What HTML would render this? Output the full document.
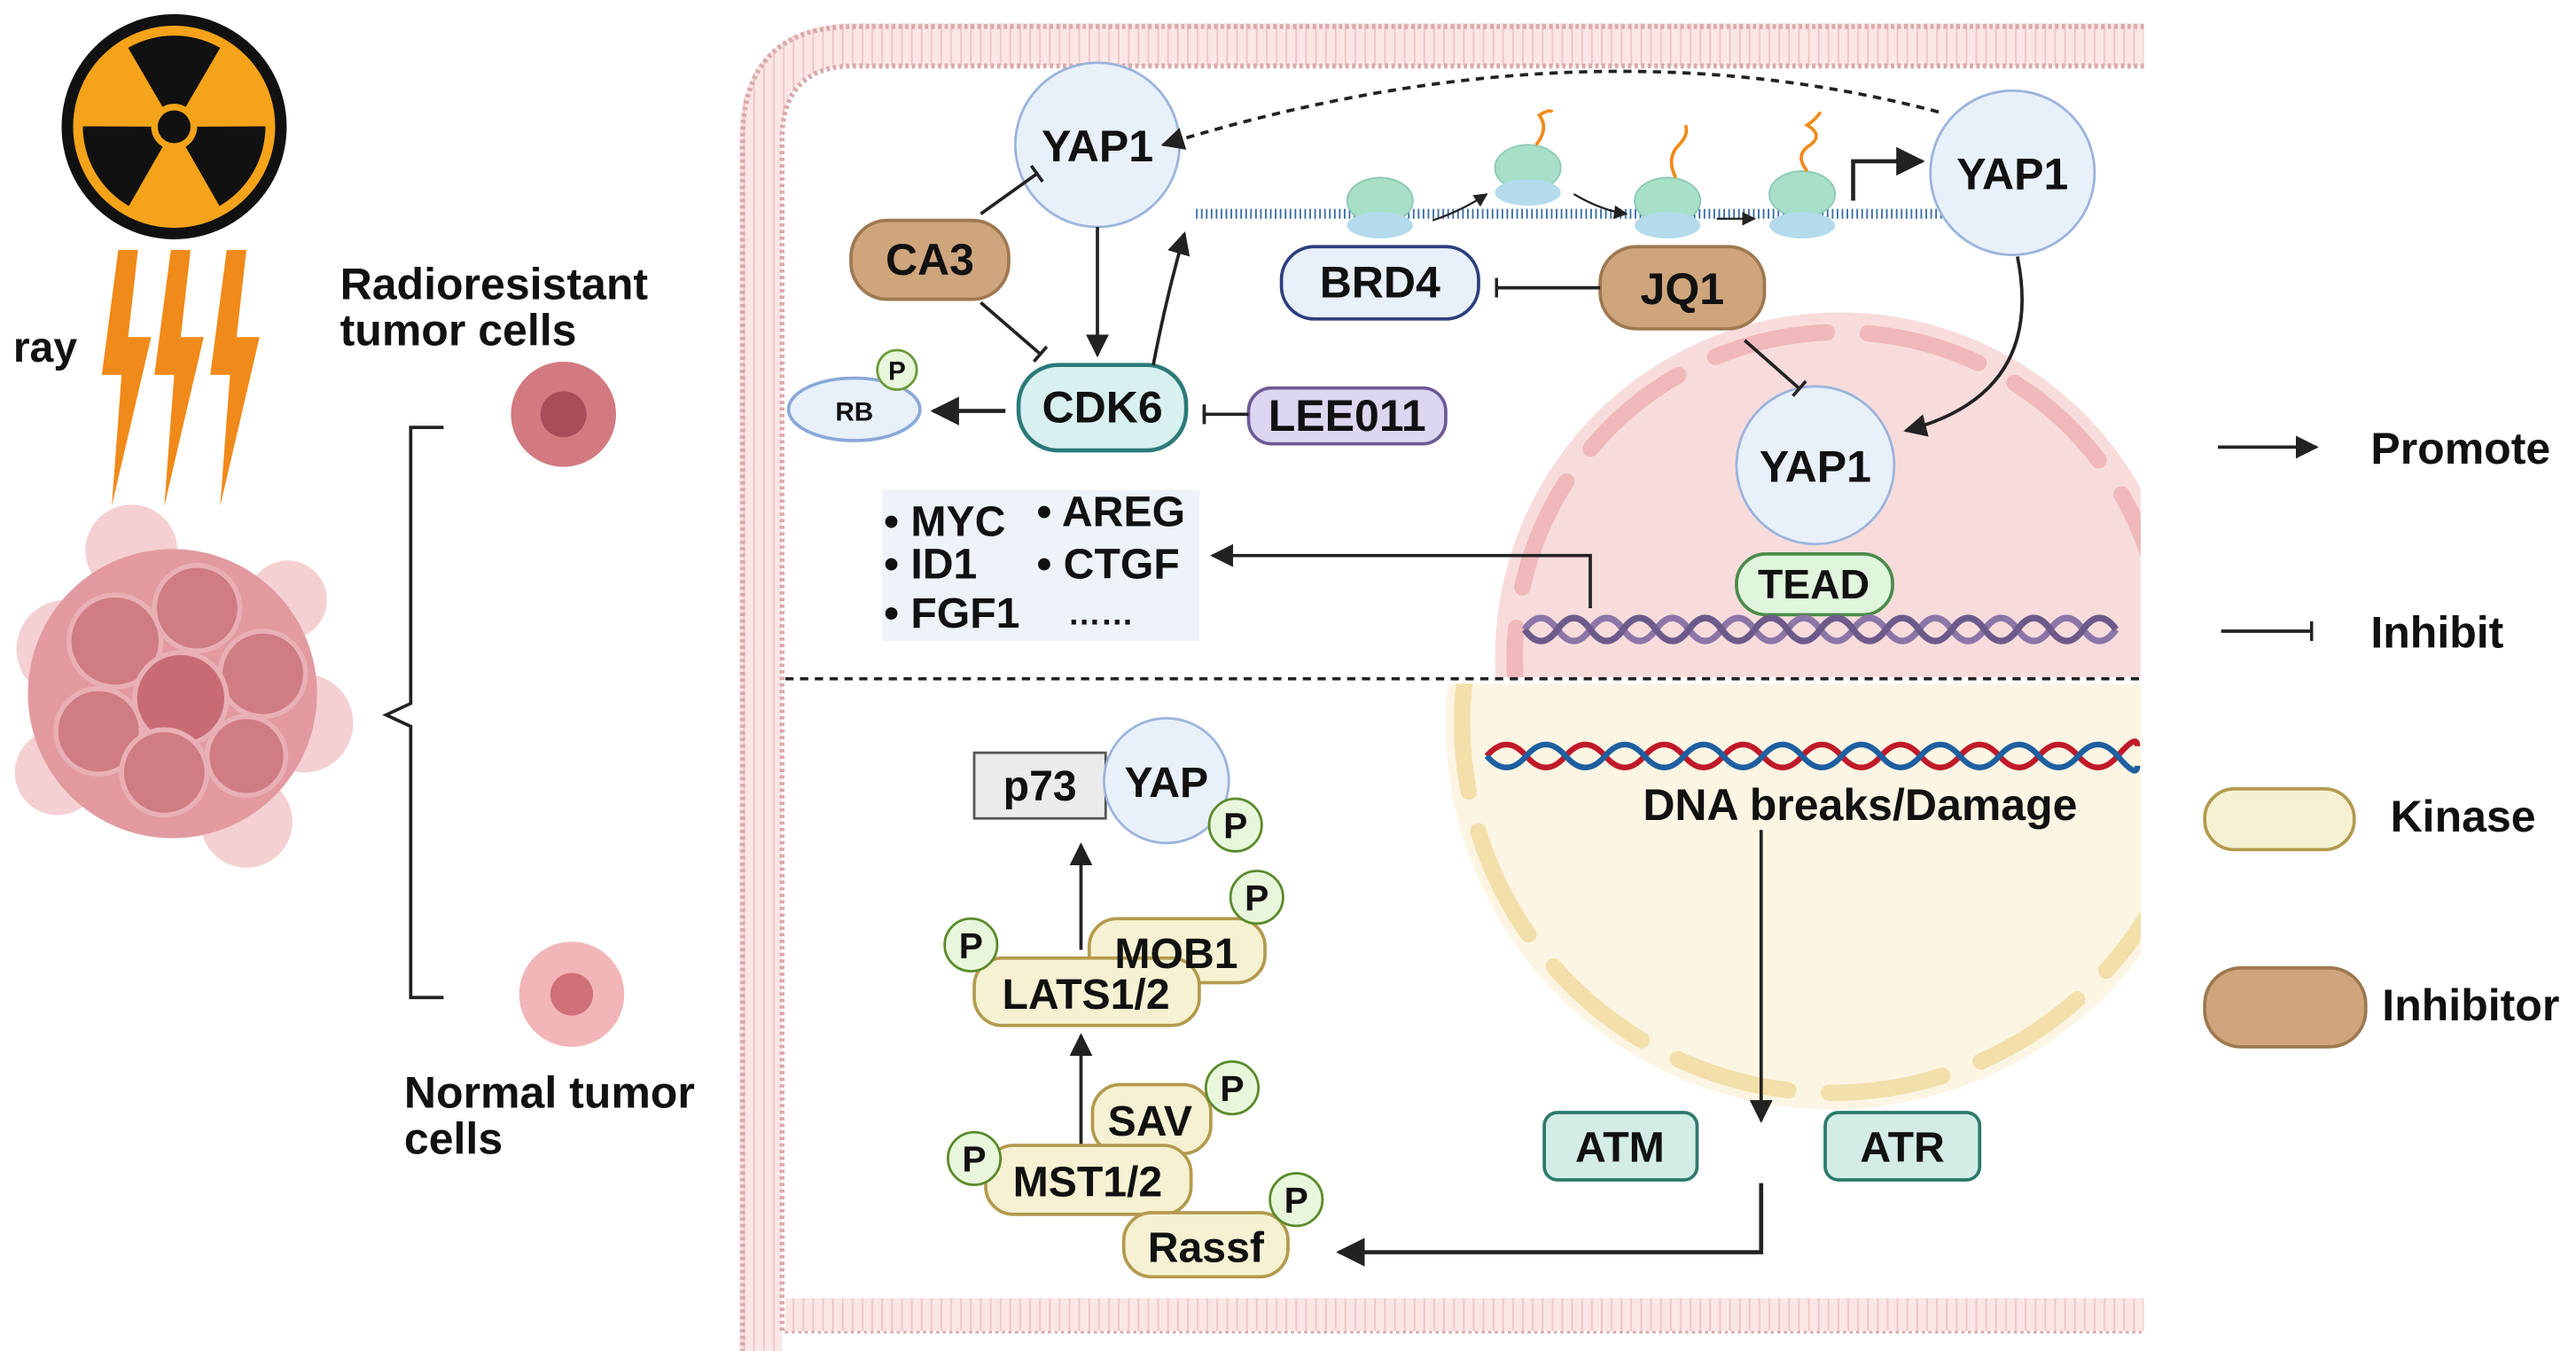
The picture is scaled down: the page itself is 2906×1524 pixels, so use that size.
<!DOCTYPE html>
<html><head><meta charset="utf-8"><style>
html,body{margin:0;padding:0;background:#fff}
svg{display:block}
text{font-family:"Liberation Sans",Arial,sans-serif;font-weight:bold;fill:#111}
</style></head><body>
<svg width="2906" height="1524" viewBox="0 0 1568 822" xmlns="http://www.w3.org/2000/svg">
<defs>
<marker id="ar" viewBox="0 0 10 10" refX="9" refY="5" markerWidth="7" markerHeight="7" orient="auto"><path d="M0,0 L10,5 L0,10 z" fill="#222"/></marker>
<marker id="tb" viewBox="0 0 4 12" refX="2" refY="6" markerWidth="4" markerHeight="12" markerUnits="userSpaceOnUse" orient="auto"><rect x="0" y="0" width="2" height="12" fill="#222"/></marker>
<pattern id="mem" width="6" height="6" patternUnits="userSpaceOnUse"><rect width="6" height="6" fill="#fbe6e6"/><line x1="3" y1="0" x2="3" y2="6" stroke="#f0c4c4" stroke-width="1"/></pattern>
</defs>

<!-- radiation -->
<circle cx="106" cy="77" r="65" fill="#f5a31a" stroke="#111" stroke-width="7"/>
<g fill="#111" transform="translate(106,77)">
<path d="M0,0 L-28,-48 A56,56 0 0 1 28,-48 Z"/>
<path d="M0,0 L-28,-48 A56,56 0 0 1 28,-48 Z" transform="rotate(120)"/>
<path d="M0,0 L-28,-48 A56,56 0 0 1 28,-48 Z" transform="rotate(240)"/>
<circle r="14" fill="#f5a31a"/><circle r="10"/>
</g>
<g fill="#f08a1a">
<path d="M72,152 L84,152 L78,205 L92,205 L68,308 L74,228 L62,228 Z"/>
<path d="M104,152 L116,152 L110,205 L124,205 L100,308 L106,228 L94,228 Z"/>
<path d="M138,152 L150,152 L144,205 L158,205 L134,308 L140,228 L128,228 Z"/>
</g>
<text x="8" y="220" font-size="26">ray</text>

<!-- tumor cluster -->
<g>
<circle cx="40" cy="395" r="30" fill="#f4d0d2"/><circle cx="185" cy="440" r="30" fill="#f4d0d2"/>
<circle cx="80" cy="335" r="28" fill="#f4d0d2"/><circle cx="150" cy="500" r="28" fill="#f4d0d2"/>
<circle cx="35" cy="470" r="26" fill="#f4d0d2"/><circle cx="175" cy="365" r="24" fill="#f4d0d2"/>
<circle cx="105" cy="422" r="88" fill="#e29aa0"/>
<circle cx="70" cy="390" r="28" fill="#d07c84" stroke="#e8b0b4" stroke-width="3"/>
<circle cx="120" cy="370" r="26" fill="#d07c84" stroke="#e8b0b4" stroke-width="3"/>
<circle cx="160" cy="410" r="26" fill="#d07c84" stroke="#e8b0b4" stroke-width="3"/>
<circle cx="110" cy="425" r="28" fill="#c96b75" stroke="#e8b0b4" stroke-width="3"/>
<circle cx="60" cy="445" r="26" fill="#d07c84" stroke="#e8b0b4" stroke-width="3"/>
<circle cx="100" cy="470" r="26" fill="#d07c84" stroke="#e8b0b4" stroke-width="3"/>
<circle cx="150" cy="460" r="24" fill="#d07c84" stroke="#e8b0b4" stroke-width="3"/>
</g>
<text x="207" y="182" font-size="27">Radioresistant</text>
<text x="207" y="210" font-size="27">tumor cells</text>
<circle cx="343" cy="252" r="32" fill="#d27a80"/><circle cx="343" cy="252" r="14" fill="#a84e58"/>
<circle cx="348" cy="605" r="32" fill="#f2b6b8"/><circle cx="348" cy="605" r="13" fill="#d07078"/>
<text x="246" y="674" font-size="27">Normal tumor</text>
<text x="246" y="702" font-size="27">cells</text>
<path d="M270,260 L250,260 L250,428 L235,435 L250,442 L250,607 L270,607" fill="none" stroke="#222" stroke-width="2"/>

<!-- membrane -->
<path d="M1305,27 L520,27 Q463,27 463,85 L463,822" fill="none" stroke="url(#mem)" stroke-width="26"/>
<path d="M1305,16 L520,16 Q452,16 452,85 L452,822" fill="none" stroke="#d9a9ab" stroke-width="3" stroke-dasharray="2 2"/>
<path d="M1305,40 L520,40 Q476,40 476,85 L476,810 L1305,810" fill="none" stroke="#d9a9ab" stroke-width="3" stroke-dasharray="2 2"/>
<rect x="478" y="790" width="827" height="20" fill="url(#mem)"/>

<!-- nucleus -->
<clipPath id="cr"><rect x="478" y="42" width="825" height="748"/></clipPath>
<g clip-path="url(#cr)">
<clipPath id="top"><rect x="478" y="42" width="825" height="370"/></clipPath>
<g clip-path="url(#top)">
<circle cx="1120" cy="400" r="210" fill="#f8dcdc"/>
<circle cx="1120" cy="400" r="198" fill="none" stroke="#f0b8ba" stroke-width="10" stroke-dasharray="70 25" stroke-linecap="round"/>
</g>
<clipPath id="bot"><rect x="478" y="416" width="825" height="374"/></clipPath>
<g clip-path="url(#bot)">
<circle cx="1115" cy="440" r="235" fill="#fcf5e3"/>
<circle cx="1115" cy="440" r="225" fill="none" stroke="#f3dfaa" stroke-width="10" stroke-dasharray="70 25" stroke-linecap="round"/>
</g>
</g>
<line x1="478" y1="413" x2="1303" y2="413" stroke="#222" stroke-width="2" stroke-dasharray="5 4"/>

<!-- top DNA strand -->
<line x1="728" y1="130" x2="1205" y2="130" stroke="#3b6ea5" stroke-width="6" stroke-dasharray="1 2"/>
<g fill="#a8dfc8" stroke="#8cc9b4">
<ellipse cx="840" cy="122" rx="20" ry="14"/><ellipse cx="930" cy="102" rx="20" ry="14"/><ellipse cx="1015" cy="122" rx="20" ry="14"/><ellipse cx="1097" cy="118" rx="20" ry="14"/>
</g>
<g fill="#b4dbec"><ellipse cx="840" cy="137" rx="20" ry="8"/><ellipse cx="930" cy="117" rx="20" ry="8"/><ellipse cx="1015" cy="137" rx="20" ry="8"/><ellipse cx="1097" cy="137" rx="20" ry="8"/></g>
<g fill="none" stroke="#f08a1a" stroke-width="2"><path d="M935,88 q8,-10 2,-18 q6,-4 8,-2"/><path d="M1020,108 q-6,-12 2,-20 q6,-6 4,-12"/><path d="M1100,104 q-8,-10 2,-16 q8,-6 -2,-12 q6,-4 8,-8"/></g>
<path d="M872,134 Q890,128 905,118" fill="none" stroke="#222" stroke-width="1.2" marker-end="url(#ar)"/>
<path d="M958,118 Q975,128 990,130" fill="none" stroke="#222" stroke-width="1.2" marker-end="url(#ar)"/>
<line x1="1045" y1="133" x2="1068" y2="133" stroke="#222" stroke-width="1.2" marker-end="url(#ar)"/>
<path d="M1128,122 L1128,98 L1170,98" fill="none" stroke="#222" stroke-width="2.5" marker-end="url(#ar)"/>

<!-- nodes top -->
<circle cx="668" cy="88" r="50" fill="#e8f0fa" stroke="#9bb4dc" stroke-width="1.5"/>
<text x="668" y="98" font-size="27" text-anchor="middle">YAP1</text>
<circle cx="1225" cy="105" r="50" fill="#e8f0fa" stroke="#9bb4dc" stroke-width="1.5"/>
<text x="1225" y="115" font-size="27" text-anchor="middle">YAP1</text>
<circle cx="1105" cy="283" r="48" fill="#e8f0fa" stroke="#9bb4dc" stroke-width="1.5"/>
<text x="1105" y="293" font-size="27" text-anchor="middle">YAP1</text>
<rect x="518" y="134" width="96" height="48" rx="22" fill="#cfa57c" stroke="#9e7850" stroke-width="2"/>
<text x="566" y="167" font-size="27" text-anchor="middle">CA3</text>
<rect x="974" y="150" width="100" height="50" rx="22" fill="#cfa57c" stroke="#9e7850" stroke-width="2"/>
<text x="1024" y="185" font-size="27" text-anchor="middle">JQ1</text>
<rect x="780" y="150" width="120" height="44" rx="20" fill="#e8f0fa" stroke="#2b3f80" stroke-width="2"/>
<text x="840" y="181" font-size="27" text-anchor="middle">BRD4</text>
<rect x="620" y="222" width="102" height="52" rx="24" fill="#d9f0f0" stroke="#2b7a7a" stroke-width="2.5"/>
<text x="671" y="257" font-size="27" text-anchor="middle">CDK6</text>
<rect x="760" y="236" width="120" height="34" rx="14" fill="#dcd6f0" stroke="#6b5b95" stroke-width="2"/>
<text x="820" y="262" font-size="27" text-anchor="middle">LEE011</text>
<ellipse cx="520" cy="249" rx="40" ry="19" fill="#e8f0fa" stroke="#8aa8d8" stroke-width="2"/>
<text x="520" y="256" font-size="16" text-anchor="middle">RB</text>
<circle cx="546" cy="225" r="12" fill="#e8f7dc" stroke="#6a9a3a" stroke-width="1.5"/>
<text x="546" y="231" font-size="16" text-anchor="middle">P</text>
<rect x="1057" y="337" width="95" height="37" rx="18" fill="#dff5dc" stroke="#4a8a4a" stroke-width="2"/>
<text x="1104" y="364" font-size="25" text-anchor="middle">TEAD</text>

<!-- gene box -->
<rect x="537" y="298" width="193" height="92" fill="#eef3fa"/>
<text x="538" y="326" font-size="26">• MYC</text>
<text x="538" y="352" font-size="26">• ID1</text>
<text x="538" y="382" font-size="26">• FGF1</text>
<text x="631" y="320" font-size="26">• AREG</text>
<text x="631" y="352" font-size="26">• CTGF</text>
<text x="650" y="380" font-size="20">……</text>

<!-- purple DNA -->
<path d="M928,383 q10,-14 20,0 t20,0 t20,0 t20,0 t20,0 t20,0 t20,0 t20,0 t20,0 t20,0 t20,0 t20,0 t20,0 t20,0 t20,0 t20,0 t20,0 t20,0" fill="none" stroke="#8c76a8" stroke-width="4"/>
<path d="M928,383 q10,14 20,0 t20,0 t20,0 t20,0 t20,0 t20,0 t20,0 t20,0 t20,0 t20,0 t20,0 t20,0 t20,0 t20,0 t20,0 t20,0 t20,0 t20,0" fill="none" stroke="#6c5a8a" stroke-width="4"/>

<!-- connectors top -->
<path d="M1180,68 Q960,10 708,88" fill="none" stroke="#222" stroke-width="2" stroke-dasharray="5 4" marker-end="url(#ar)"/>
<line x1="597" y1="130" x2="632" y2="105" stroke="#222" stroke-width="2" marker-end="url(#tb)"/>
<line x1="597" y1="184" x2="634" y2="216" stroke="#222" stroke-width="2" marker-end="url(#tb)"/>
<line x1="668" y1="138" x2="668" y2="216" stroke="#222" stroke-width="2" marker-end="url(#ar)"/>
<path d="M702,222 Q710,180 721,142" fill="none" stroke="#222" stroke-width="2" marker-end="url(#ar)"/>
<line x1="612" y1="250" x2="568" y2="250" stroke="#222" stroke-width="2.5" marker-end="url(#ar)"/>
<line x1="760" y1="252" x2="732" y2="252" stroke="#222" stroke-width="2" marker-end="url(#tb)"/>
<line x1="974" y1="175" x2="910" y2="175" stroke="#222" stroke-width="2" marker-end="url(#tb)"/>
<line x1="1062" y1="207" x2="1096" y2="237" stroke="#222" stroke-width="2" marker-end="url(#tb)"/>
<path d="M1228,156 Q1245,240 1160,262" fill="none" stroke="#222" stroke-width="2" marker-end="url(#ar)"/>
<path d="M968,370 L968,338 L738,338" fill="none" stroke="#222" stroke-width="2" marker-end="url(#ar)"/>

<!-- bottom DNA red/blue -->
<path d="M905,460 q12,-14 24,0 t24,0 t24,0 t24,0 t24,0 t24,0 t24,0 t24,0 t24,0 t24,0 t24,0 t24,0 t24,0 t24,0 t24,0 t24,0 t12,-6" fill="none" stroke="#c01a2a" stroke-width="3.5"/>
<path d="M905,460 q12,14 24,0 t24,0 t24,0 t24,0 t24,0 t24,0 t24,0 t24,0 t24,0 t24,0 t24,0 t24,0 t24,0 t24,0 t24,0 t24,0 t12,6" fill="none" stroke="#1e5fa0" stroke-width="3.5"/>
<text x="1000" y="499" font-size="27">DNA breaks/Damage</text>
<line x1="1072" y1="505" x2="1072" y2="682" stroke="#222" stroke-width="2" marker-end="url(#ar)"/>
<path d="M1072,720 L1072,762 L815,762" fill="none" stroke="#222" stroke-width="2.5" marker-end="url(#ar)"/>
<rect x="940" y="677" width="93" height="41" rx="8" fill="#d3ece6" stroke="#2b7a6a" stroke-width="2"/>
<text x="986" y="707" font-size="26" text-anchor="middle">ATM</text>
<rect x="1111" y="677" width="94" height="41" rx="8" fill="#d3ece6" stroke="#2b7a6a" stroke-width="2"/>
<text x="1158" y="707" font-size="26" text-anchor="middle">ATR</text>

<!-- Hippo cascade -->
<g stroke="#b39a4e" stroke-width="2" fill="#f6f1d2">
<rect x="663" y="559" width="107" height="39" rx="17"/>
<rect x="593" y="583" width="137" height="41" rx="17"/>
<rect x="665" y="660" width="72" height="42" rx="17"/>
<rect x="600" y="697" width="125" height="42" rx="17"/>
<rect x="684" y="738" width="100" height="39" rx="17"/>
</g>
<g stroke="#555" stroke-width="1.5" fill="#ebebeb"><rect x="593" y="458" width="80" height="40"/></g>
<circle cx="710" cy="475" r="38" fill="#e8f0fa" stroke="#9bb4dc" stroke-width="1.5"/>
<text x="633" y="487" font-size="26" text-anchor="middle">p73</text>
<text x="710" y="485" font-size="26" text-anchor="middle">YAP</text>
<text x="716" y="589" font-size="26" text-anchor="middle">MOB1</text>
<text x="661" y="614" font-size="26" text-anchor="middle">LATS1/2</text>
<text x="700" y="691" font-size="26" text-anchor="middle">SAV</text>
<text x="662" y="728" font-size="26" text-anchor="middle">MST1/2</text>
<text x="734" y="768" font-size="26" text-anchor="middle">Rassf</text>
<g fill="#e8f7dc" stroke="#5a8a2a" stroke-width="1.5">
<circle cx="752" cy="502" r="16"/><circle cx="765" cy="546" r="16"/><circle cx="591" cy="575" r="16"/><circle cx="750" cy="662" r="16"/><circle cx="593" cy="705" r="16"/><circle cx="789" cy="730" r="16"/>
</g>
<g font-size="22">
<text x="752" y="510" text-anchor="middle">P</text><text x="765" y="554" text-anchor="middle">P</text><text x="591" y="583" text-anchor="middle">P</text><text x="750" y="670" text-anchor="middle">P</text><text x="593" y="713" text-anchor="middle">P</text><text x="789" y="738" text-anchor="middle">P</text>
</g>
<line x1="658" y1="578" x2="658" y2="514" stroke="#222" stroke-width="2" marker-end="url(#ar)"/>
<line x1="658" y1="696" x2="658" y2="630" stroke="#222" stroke-width="2" marker-end="url(#ar)"/>

<!-- legend -->
<line x1="1350" y1="272" x2="1410" y2="272" stroke="#222" stroke-width="2" marker-end="url(#ar)"/>
<text x="1443" y="282" font-size="27">Promote</text>
<line x1="1352" y1="384" x2="1408" y2="384" stroke="#222" stroke-width="2" marker-end="url(#tb)"/>
<text x="1443" y="394" font-size="27">Inhibit</text>
<rect x="1342" y="480" width="91" height="37" rx="18" fill="#f6f1d2" stroke="#b39a4e" stroke-width="2"/>
<text x="1455" y="506" font-size="27">Kinase</text>
<rect x="1342" y="589" width="98" height="48" rx="22" fill="#cfa57c" stroke="#9e7850" stroke-width="2"/>
<text x="1450" y="621" font-size="27">Inhibitor</text>
</svg>
</body></html>
